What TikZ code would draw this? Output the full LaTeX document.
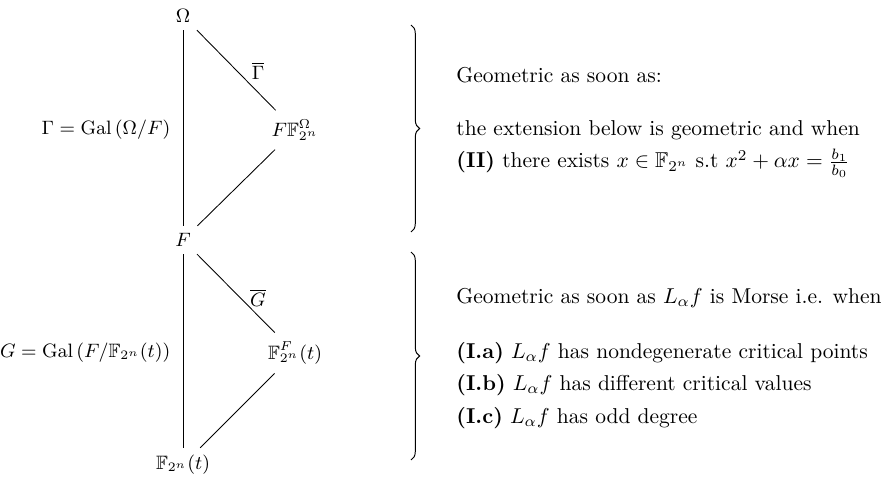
\documentclass[tikz,border=0pt]{standalone}
\usepackage{amsmath,amssymb}
\usetikzlibrary{decorations.pathreplacing}
\begin{document}
\begin{tikzpicture}[x=0.465pt,y=-0.465pt,
  field/.style={inner sep=3.3pt,font=\small},
  rfield/.style={inner xsep=3pt,inner ysep=4.2pt,font=\small},
  lab/.style={inner sep=2pt,font=\small},
  txt/.style={anchor=west,inner sep=0pt},
  link/.style={line width=0.4pt},
  bracestyle/.style={decorate,decoration={brace,amplitude=4pt},line width=0.45pt}]
\useasboundingbox (0,0) rectangle (889,479);
% upper diagram
\node[field] (Om) at (183,16) {$\Omega$};
\node[field] (F) at (183,240) {$F$};
\node[rfield] (FFO) at (295,130) {$F\mathbb{F}_{2^n}^{\Omega}$};
\draw[link] (Om) -- (F);
\draw[link] (Om) -- (FFO);
\draw[link] (FFO) -- (F);
\node[lab] (Gbar) at (258,71) {$\overline{\Gamma}$};
\node[lab,anchor=east] (Gam) at (175,130) {$\Gamma=\mathrm{Gal}\left(\Omega/F\right)$};
% lower diagram
\node[field] (Ft) at (183,465) {$\mathbb{F}_{2^n}(t)$};
\node[rfield] (FF) at (295,353) {$\mathbb{F}_{2^n}^F(t)$};
\draw[link] (F) -- (Ft);
\draw[link] (F) -- (FF);
\draw[link] (FF) -- (Ft);
\node[lab] (Gbar2) at (258,298) {$\overline{G}$};
\node[lab,anchor=east] (GG) at (175,353) {$G=\mathrm{Gal}\left(F/\mathbb{F}_{2^n}(t)\right)$};
% braces
\coordinate (b1t) at (411,25);
\coordinate (b1b) at (411,232);
\coordinate (b2t) at (411,252);
\coordinate (b2b) at (411,460);
\draw[bracestyle] (b1t) -- (b1b);
\draw[bracestyle] (b2t) -- (b2b);
% texts
\node[txt] (t1) at (456,75) {Geometric as soon as:};
\node[txt] (t2) at (456,130) {the extension below is geometric and when};
\node[txt] (t3) at (456,163) {\textbf{(II)} there exists $x\in\mathbb{F}_{2^n}$ s.t $x^2+\alpha x=\frac{b_1}{b_0}$};
\node[txt] (t4) at (456,298) {Geometric as soon as $L_\alpha f$ is Morse i.e. when};
\node[txt] (t5) at (456,353) {\textbf{(I.a)} $L_\alpha f$ has nondegenerate critical points};
\node[txt] (t6) at (456,385) {\textbf{(I.b)} $L_\alpha f$ has different critical values};
\node[txt] (t7) at (456,418) {\textbf{(I.c)} $L_\alpha f$ has odd degree};
\end{tikzpicture}
\end{document}
